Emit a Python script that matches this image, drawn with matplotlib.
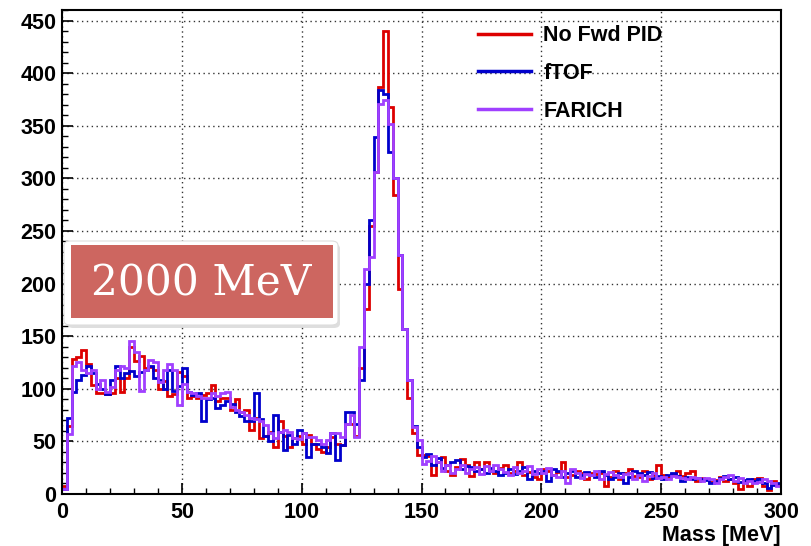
#!/usr/bin/env python3
"""Invariant mass spectra at 2000 MeV for three forward PID options."""

import matplotlib
matplotlib.use('Agg')
import matplotlib.pyplot as plt
import numpy as np
from matplotlib.patches import FancyBboxPatch, Rectangle

# 150 bins of 2 MeV from 0 to 300 MeV
bin_lo = 0
bin_hi = 300
bin_width = 2

no_fwd_pid = [
    8, 65, 128, 130, 137, 124, 104, 96, 96, 95,
    96, 110, 97, 110, 140, 126, 131, 120, 121, 118,
    100, 107, 93, 95, 116, 112, 91, 93, 91, 94,
    96, 104, 88, 91, 91, 80, 90, 78, 80, 61,
    72, 53, 55, 59, 45, 69, 55, 45, 53, 55,
    48, 56, 48, 43, 40, 45, 54, 48, 47, 67,
    67, 55, 120, 176, 255, 306, 387, 440, 368, 284,
    195, 157, 91, 58, 37, 37, 36, 18, 30, 35,
    22, 18, 26, 33, 28, 17, 30, 24, 30, 22,
    20, 25, 28, 20, 22, 30, 18, 21, 16, 14,
    24, 22, 18, 21, 30, 16, 18, 22, 20, 14,
    20, 19, 20, 8, 16, 22, 14, 20, 24, 17,
    16, 22, 14, 18, 28, 18, 16, 19, 22, 17,
    20, 22, 12, 15, 14, 11, 13, 16, 12, 14,
    10, 5, 12, 8, 14, 15, 8, 4, 12, 9,
]
ftof = [
    5, 72, 97, 108, 113, 122, 115, 105, 100, 95,
    108, 122, 110, 115, 117, 112, 116, 118, 122, 110,
    108, 100, 118, 98, 103, 120, 97, 94, 96, 69,
    90, 91, 82, 85, 88, 86, 78, 74, 69, 69,
    96, 71, 55, 50, 75, 59, 42, 56, 48, 61,
    58, 35, 48, 48, 45, 39, 58, 32, 47, 78,
    78, 67, 108, 200, 260, 339, 384, 380, 325, 300,
    227, 157, 108, 65, 45, 35, 38, 28, 34, 25,
    28, 30, 32, 24, 27, 26, 22, 24, 20, 25,
    22, 18, 20, 24, 19, 22, 26, 14, 22, 20,
    22, 12, 24, 22, 16, 20, 22, 16, 18, 21,
    18, 16, 22, 18, 14, 16, 20, 10, 16, 22,
    20, 18, 21, 15, 17, 14, 18, 20, 17, 12,
    16, 14, 15, 14, 13, 10, 12, 15, 17, 14,
    16, 11, 13, 14, 12, 14, 10, 6, 9, 10,
]
farich = [
    5, 57, 122, 125, 118, 115, 118, 100, 108, 97,
    102, 118, 122, 120, 145, 135, 98, 118, 127, 125,
    106, 118, 124, 118, 85, 105, 97, 96, 93, 91,
    91, 96, 93, 96, 97, 83, 80, 78, 75, 72,
    71, 69, 66, 58, 53, 59, 61, 59, 53, 52,
    58, 54, 54, 51, 48, 51, 58, 58, 54, 67,
    75, 54, 140, 214, 225, 306, 371, 374, 352, 300,
    227, 157, 108, 64, 51, 29, 31, 36, 30, 22,
    28, 20, 24, 28, 20, 24, 26, 19, 27, 22,
    28, 24, 21, 18, 26, 20, 22, 27, 19, 24,
    20, 25, 18, 16, 22, 10, 24, 20, 15, 19,
    18, 22, 14, 19, 21, 18, 16, 19, 20, 14,
    18, 12, 17, 20, 15, 16, 14, 17, 16, 15,
    14, 16, 15, 12, 15, 14, 10, 14, 16, 18,
    12, 15, 10, 12, 10, 11, 14, 12, 10, 8,
]

series_labels = ['No Fwd PID', 'fTOF', 'FARICH']
series_colors = ['#dd0000', '#0000cc', '#a040ff']

x_label = 'Mass [MeV]'
energy_label = '2000 MeV'

FONT = ['Liberation Sans', 'DejaVu Sans']


def main():
    plt.rcParams['font.family'] = FONT
    plt.rcParams['font.weight'] = 'bold'

    fig = plt.figure(figsize=(8.11, 5.46), dpi=100)
    ax = fig.add_axes([0.0765, 0.0952, 0.8865, 0.8865])

    edges = np.arange(bin_lo, bin_hi + bin_width, bin_width)
    for vals, lab, col in zip([no_fwd_pid, ftof, farich], series_labels, series_colors):
        ax.stairs(vals, edges, color=col, linewidth=2.0, label=lab, baseline=None)

    ax.set_xlim(0, 300)
    ax.set_ylim(0, 460)
    ax.set_xticks(np.arange(0, 301, 50))
    ax.set_yticks(np.arange(0, 451, 50))
    ax.set_xticks(np.arange(0, 301, 10), minor=True)
    ax.set_yticks(np.arange(0, 461, 10), minor=True)
    ax.tick_params(which='major', direction='in', length=8, width=1.2,
                   labelsize=15.5, top=False, right=False)
    ax.tick_params(which='minor', direction='in', length=4.5, width=1.0,
                   top=False, right=False)
    ax.tick_params(axis='x', pad=6)
    ax.tick_params(axis='y', pad=4)
    for lbl in ax.get_xticklabels() + ax.get_yticklabels():
        lbl.set_fontweight('bold')

    ax.grid(True, which='major', color='#333333', linestyle=(0, (1, 2.5)), linewidth=1.0)
    ax.set_axisbelow(True)
    for sp in ax.spines.values():
        sp.set_linewidth(1.5)
        sp.set_color('black')

    ax.set_xlabel(x_label, fontsize=15.5, fontweight='bold', loc='right', labelpad=1)

    leg = ax.legend(loc='upper left', bbox_to_anchor=(0.557, 1.0), frameon=False,
                    fontsize=15.5, handlelength=2.5, handletextpad=0.55, labelspacing=0.78,
                    borderaxespad=0.3)
    for t in leg.get_texts():
        t.set_fontweight('bold')
    for h in leg.get_lines():
        h.set_linewidth(2.5)

    # energy label box with soft shadow
    W, H = 811.0, 546.0
    shadow = FancyBboxPatch((67 / W, 1 - 328 / H), 273 / W, 84 / H,
                            boxstyle='round,pad=0,rounding_size=0.008',
                            transform=fig.transFigure, facecolor='#c8c8c8',
                            edgecolor='none', alpha=0.6, zorder=5)
    outer = FancyBboxPatch((64 / W, 1 - 325 / H), 274 / W, 84 / H,
                           boxstyle='round,pad=0,rounding_size=0.008',
                           transform=fig.transFigure, facecolor='white',
                           edgecolor='#dddddd', linewidth=0.8, zorder=6)
    inner = Rectangle((71 / W, 1 - 318 / H), 262 / W, 73 / H,
                      transform=fig.transFigure, facecolor='#cd6660',
                      edgecolor='none', zorder=7)
    fig.patches.extend([shadow, outer, inner])
    fig.text(201 / W, 1 - 283 / H, energy_label, color='white', fontsize=30.5,
             family='DejaVu Serif', fontweight='normal', ha='center', va='center',
             zorder=8)

    fig.savefig('out.png', dpi=100, facecolor='white')
    plt.close(fig)


if __name__ == '__main__':
    main()
